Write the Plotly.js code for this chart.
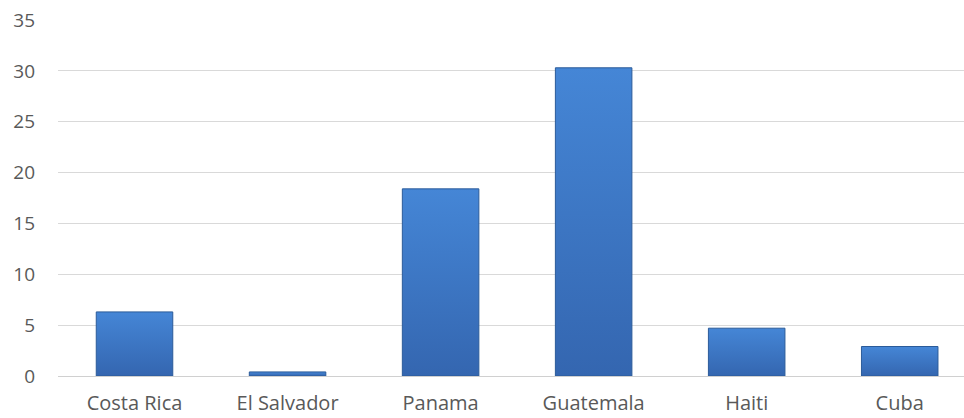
<!DOCTYPE html>
<html>
<head>
<meta charset="utf-8">
<script src="https://cdn.plot.ly/plotly-3.0.1.min.js"></script>
<style>
html,body{margin:0;padding:0;background:#fff;overflow:hidden;}
#chart{width:964px;height:418px;}
</style>
</head>
<body>
<div id="chart"></div>
<script>
const categories = ["Costa Rica", "El Salvador", "Panama", "Guatemala", "Haiti", "Cuba"];
const values = [6.3, 0.4, 18.4, 30.3, 4.7, 2.9];
const yTicks = [0, 5, 10, 15, 20, 25, 30, 35];

const trace = {
  type: "bar",
  x: categories,
  y: values,
  width: 0.5,
  marker: { color: "#3d78c6", line: { color: "#2b5b99", width: 1 } },
  hoverinfo: "x+y"
};

const layout = {
  width: 964,
  height: 418,
  margin: { l: 58, r: 0, t: 20, b: 42 },
  paper_bgcolor: "#ffffff",
  plot_bgcolor: "#ffffff",
  showlegend: false,
  font: { family: "Open Sans, sans-serif", size: 20, color: "#595959" },
  xaxis: {
    type: "category",
    range: [-0.5, 5.42],
    showgrid: false,
    showline: false,
    zeroline: false,
    ticks: "",
    ticklabelstandoff: 13,
    tickfont: { family: "Open Sans, sans-serif", size: 20, color: "#595959" }
  },
  yaxis: {
    range: [0, 35],
    tickvals: yTicks,
    ticktext: yTicks.map(String),
    showgrid: true,
    gridcolor: "#d9d9d9",
    gridwidth: 1,
    zeroline: true,
    zerolinecolor: "#d0d0d0",
    zerolinewidth: 1,
    showline: false,
    ticks: "",
    ticklabelstandoff: 22,
    tickfont: { family: "Open Sans, sans-serif", size: 19, color: "#595959" }
  }
};

function addGradient(gd) {
  const svg = gd.querySelector("svg.main-svg");
  if (!svg) return;
  let defs = svg.querySelector("defs");
  if (!defs) { defs = document.createElementNS("http://www.w3.org/2000/svg", "defs"); svg.insertBefore(defs, svg.firstChild); }
  if (!svg.querySelector("#barGrad")) {
    const g = document.createElementNS("http://www.w3.org/2000/svg", "linearGradient");
    g.setAttribute("id", "barGrad");
    g.setAttribute("x1", "0"); g.setAttribute("y1", "0");
    g.setAttribute("x2", "0"); g.setAttribute("y2", "1");
    [["0", "#4586d6"], ["1", "#3466b0"]].forEach(([o, c]) => {
      const s = document.createElementNS("http://www.w3.org/2000/svg", "stop");
      s.setAttribute("offset", o); s.setAttribute("stop-color", c);
      g.appendChild(s);
    });
    defs.appendChild(g);
  }
  gd.querySelectorAll(".bars .point path").forEach(p => {
    p.style.fill = "url(#barGrad)";
  });
}

const gd = document.getElementById("chart");
Plotly.newPlot(gd, [trace], layout, { displayModeBar: false, staticPlot: true }).then(() => {
  addGradient(gd);
  gd.on && gd.on("plotly_afterplot", () => addGradient(gd));
});
</script>
</body>
</html>
